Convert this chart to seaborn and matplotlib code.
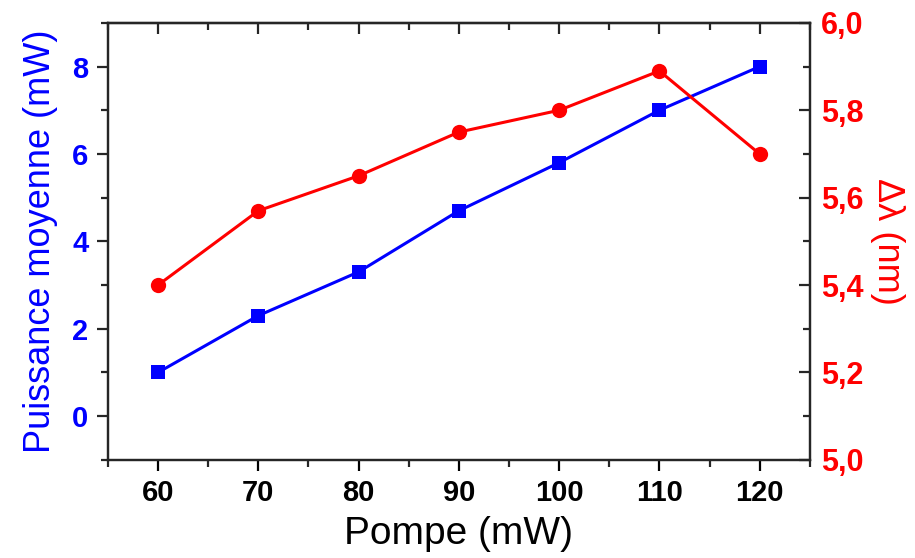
import matplotlib
matplotlib.use("Agg")
import matplotlib.pyplot as plt
import seaborn as sns
from matplotlib.ticker import MultipleLocator, FuncFormatter

# data
pompe = [60, 70, 80, 90, 100, 110, 120]
puissance = [1.0, 2.3, 3.3, 4.7, 5.8, 7.0, 8.0]
delta_lambda = [5.40, 5.57, 5.65, 5.75, 5.80, 5.89, 5.70]

sns.set_style("ticks")
plt.rcParams['font.family'] = ['Liberation Sans', 'DejaVu Sans']
plt.rcParams['axes.linewidth'] = 1.6

fig, ax = plt.subplots(figsize=(9.15, 5.58), dpi=100)
fig.subplots_adjust(left=0.118, right=0.885, top=0.959, bottom=0.176)

sns.lineplot(x=pompe, y=puissance, ax=ax, color='#0000ff', marker='s',
             markersize=10, markeredgewidth=0, linewidth=2.2)
ax.set_xlim(55, 125)
ax.set_ylim(-1, 9)
ax.xaxis.set_major_locator(MultipleLocator(10))
ax.xaxis.set_minor_locator(MultipleLocator(5))
ax.yaxis.set_major_locator(MultipleLocator(2))
ax.yaxis.set_minor_locator(MultipleLocator(1))
ax.tick_params(axis='x', which='major', direction='out', length=8, width=1.6,
               labelsize=21, colors='black', pad=6)
ax.tick_params(axis='x', which='minor', direction='out', length=5, width=1.6)
ax.tick_params(axis='y', which='major', direction='out', length=8, width=1.6,
               labelsize=21, labelcolor='#0000ff', pad=6)
ax.tick_params(axis='y', which='minor', direction='out', length=5, width=1.6)
for lab in ax.get_xticklabels() + ax.get_yticklabels():
    lab.set_fontweight('bold')
ax.set_xlabel("Pompe (mW)", fontsize=28, color='black', labelpad=6)
ax.set_ylabel("Puissance moyenne (mW)", fontsize=26, color='#0000ff', labelpad=10)

# top ticks pointing inward
top = ax.secondary_xaxis('top')
top.xaxis.set_major_locator(MultipleLocator(10))
top.xaxis.set_minor_locator(MultipleLocator(5))
top.tick_params(axis='x', which='major', direction='in', length=8, width=1.6, labeltop=False)
top.tick_params(axis='x', which='minor', direction='in', length=5, width=1.6)
top.spines['top'].set_linewidth(1.6)

ax2 = ax.twinx()
sns.lineplot(x=pompe, y=delta_lambda, ax=ax2, color='#ff0000', marker='o',
             markersize=11, markeredgewidth=0, linewidth=2.2)
ax2.set_ylim(5.0, 6.0)
ax2.yaxis.set_major_locator(MultipleLocator(0.2))
ax2.yaxis.set_minor_locator(MultipleLocator(0.1))
ax2.yaxis.set_major_formatter(FuncFormatter(lambda v, p: f"{v:.1f}".replace('.', ',')))
ax2.tick_params(axis='y', which='major', direction='in', length=8, width=1.6,
                labelsize=22, labelcolor='#ff0000', pad=8)
ax2.tick_params(axis='y', which='minor', direction='in', length=5, width=1.6)
for lab in ax2.get_yticklabels():
    lab.set_fontweight('bold')
ax2.set_ylabel("Δλ (nm)", fontsize=26, color='#ff0000', rotation=270, labelpad=30)
for s in ax2.spines.values():
    s.set_linewidth(1.6)

fig.savefig("out.png", dpi=100)
